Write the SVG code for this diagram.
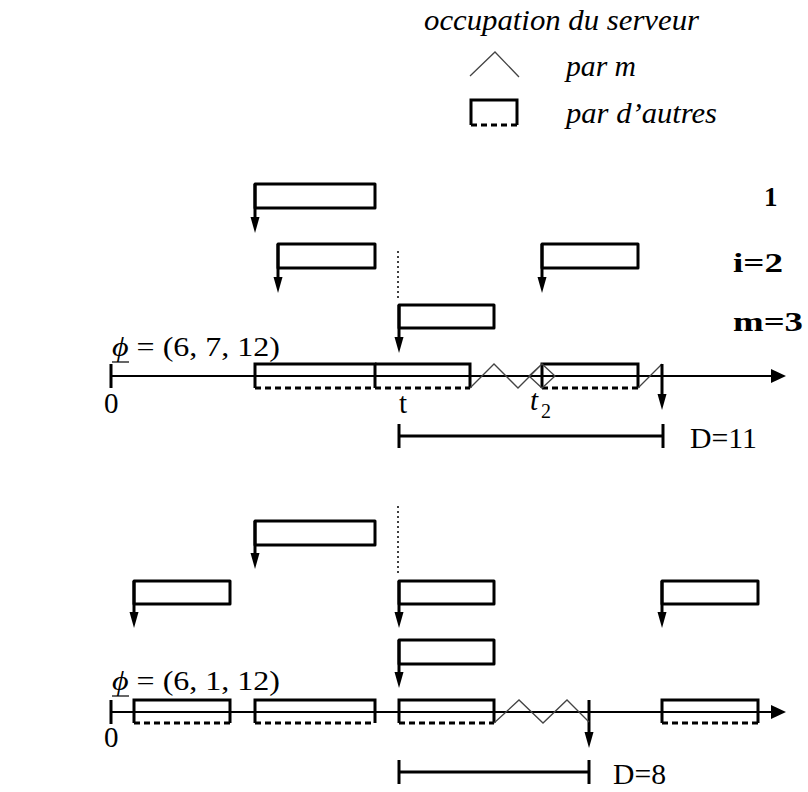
<svg xmlns="http://www.w3.org/2000/svg" width="808" height="792" viewBox="0 0 808 792">
<style>
.bx{fill:none;stroke:#000;stroke-width:3;stroke-linejoin:round;stroke-linecap:round}
.st{fill:none;stroke:#000;stroke-width:3;stroke-linecap:butt}
.ul{fill:none;stroke:#000;stroke-width:1.2}
.ds{fill:none;stroke:#000;stroke-width:3;stroke-dasharray:6,4}
.ax{fill:none;stroke:#000;stroke-width:2.2}
.zz{fill:none;stroke:#444;stroke-width:1.3}
.dot{fill:none;stroke:#000;stroke-width:1.5;stroke-dasharray:2,3}
.t{font-family:"Liberation Serif","DejaVu Serif",serif;font-size:27px;fill:#000}
.lg{font-size:29px}
.big{font-size:29px}
.sub{font-size:20px}
.i{font-style:italic}
.b{font-weight:bold}
</style>
<defs>
<path id="ah" d="M-4.5,-16 L4.5,-16 L0,0 Z" fill="#000"/>
<path id="axh" d="M-15,-7 L0,0 L-15,7 Z" fill="#000"/>
</defs>

<g id="legend">
<text class="t i lg" x="424" y="30" textLength="275" lengthAdjust="spacingAndGlyphs">occupation du serveur</text>
<polyline class="zz" points="470,76 495,52 519,77"/>
<text class="t i lg" x="566" y="76" textLength="70" lengthAdjust="spacingAndGlyphs">par m</text>
<path class="st" d="M471,125 L471,100 L517,100 L517,125"/>
<line class="ds" x1="471" y1="125" x2="517" y2="125"/>
<text class="t i lg" x="566" y="123" textLength="151" lengthAdjust="spacingAndGlyphs">par d’autres</text>
</g>

<g id="labels-right">
<text class="t b" x="764" y="206">1</text>
<text class="t b" x="733" y="272" textLength="50" lengthAdjust="spacingAndGlyphs">i=2</text>
<text class="t b" x="733" y="331" textLength="70" lengthAdjust="spacingAndGlyphs">m=3</text>
</g>

<!-- ===== Chart 1 ===== -->
<g id="chart1-axis">
<line class="ax" x1="111" y1="376" x2="772" y2="376"/>
<use href="#axh" x="786" y="376"/>
<line class="st" x1="111" y1="364" x2="111" y2="388"/>
<text class="t" x="112" y="356" textLength="168" lengthAdjust="spacingAndGlyphs"><tspan class="i">ϕ</tspan> = (6, 7, 12)</text>
<line class="ul" x1="112" y1="362" x2="129" y2="362"/>
<text class="t big" x="104" y="413">0</text>
<text class="t big" x="399" y="413">t</text>
<text class="t i big" x="530" y="410">t</text><text class="t sub" x="541" y="418">2</text>
</g>

<g id="chart1-busy">
<path class="st" d="M255,388 L255,364 L375,364 L375,388"/>
<line class="ds" x1="255" y1="388" x2="375" y2="388"/>
<path class="st" d="M375,364 L470,364 L470,388"/>
<line class="ds" x1="375" y1="388" x2="470" y2="388"/>
<path class="st" d="M542,388 L542,364 L638,364 L638,388"/>
<line class="ds" x1="542" y1="388" x2="638" y2="388"/>
<polyline class="zz" points="470,388 494,364 518,388 542,364 555,376 542,388 529,376 542,364"/>
<polyline class="zz" points="638,388 662,364"/>
</g>

<g id="c1-job1">
<rect class="bx" x="255" y="184" width="120" height="24"/>
<line class="st" x1="255" y1="184" x2="255" y2="220"/>
<use href="#ah" x="255" y="233"/>
</g>
<g id="c1-job2a">
<rect class="bx" x="278" y="244" width="97" height="24"/>
<line class="st" x1="278" y1="244" x2="278" y2="280"/>
<use href="#ah" x="278" y="293"/>
</g>
<g id="c1-job2b">
<rect class="bx" x="542" y="244" width="96" height="24"/>
<line class="st" x1="542" y1="244" x2="542" y2="280"/>
<use href="#ah" x="542" y="293"/>
</g>
<g id="c1-job3">
<rect class="bx" x="399" y="305" width="95" height="23"/>
<line class="st" x1="399" y1="305" x2="399" y2="340"/>
<use href="#ah" x="399" y="353"/>
</g>

<g id="connectors">
<line class="dot" x1="398" y1="251" x2="398" y2="300"/>
<line class="st" x1="662" y1="364" x2="662" y2="397"/>
<use href="#ah" x="662" y="410"/>
<line class="dot" x1="398" y1="506" x2="398" y2="574"/>
<line class="st" x1="589" y1="700" x2="589" y2="735"/>
<use href="#ah" x="589" y="748"/>
</g>

<g id="chart1-D">
<line class="st" x1="399" y1="436" x2="663" y2="436"/>
<line class="st" x1="399" y1="424" x2="399" y2="448"/>
<line class="st" x1="663" y1="424" x2="663" y2="448"/>
<text class="t big" x="690" y="448" textLength="67" lengthAdjust="spacingAndGlyphs">D=11</text>
</g>

<!-- ===== Chart 2 ===== -->
<g id="chart2-axis">
<line class="ax" x1="111" y1="712" x2="772" y2="712"/>
<use href="#axh" x="786" y="712"/>
<line class="st" x1="111" y1="700" x2="111" y2="724"/>
<text class="t" x="112" y="690" textLength="168" lengthAdjust="spacingAndGlyphs"><tspan class="i">ϕ</tspan> = (6, 1, 12)</text>
<line class="ul" x1="112" y1="696" x2="129" y2="696"/>
<text class="t big" x="104" y="747">0</text>
</g>

<g id="chart2-busy">
<path class="st" d="M134,723 L134,700 L230,700 L230,723"/>
<line class="ds" x1="134" y1="723" x2="230" y2="723"/>
<path class="st" d="M255,723 L255,700 L375,700 L375,723"/>
<line class="ds" x1="255" y1="723" x2="375" y2="723"/>
<path class="st" d="M399,723 L399,700 L494,700 L494,723"/>
<line class="ds" x1="399" y1="723" x2="494" y2="723"/>
<path class="st" d="M662,723 L662,700 L758,700 L758,723"/>
<line class="ds" x1="662" y1="723" x2="758" y2="723"/>
<polyline class="zz" points="494,723 519,700 543,723 567,700 589,722"/>
</g>

<g id="c2-job1">
<rect class="bx" x="255" y="521" width="120" height="24"/>
<line class="st" x1="255" y1="521" x2="255" y2="556"/>
<use href="#ah" x="255" y="569"/>
</g>
<g id="c2-job2a">
<rect class="bx" x="134" y="581" width="96" height="23"/>
<line class="st" x1="134" y1="581" x2="134" y2="615"/>
<use href="#ah" x="134" y="628"/>
</g>
<g id="c2-job2b">
<rect class="bx" x="399" y="581" width="95" height="23"/>
<line class="st" x1="399" y1="581" x2="399" y2="615"/>
<use href="#ah" x="399" y="628"/>
</g>
<g id="c2-job2c">
<rect class="bx" x="662" y="581" width="96" height="23"/>
<line class="st" x1="662" y1="581" x2="662" y2="615"/>
<use href="#ah" x="662" y="628"/>
</g>
<g id="c2-job3">
<rect class="bx" x="399" y="640" width="95" height="24"/>
<line class="st" x1="399" y1="640" x2="399" y2="675"/>
<use href="#ah" x="399" y="688"/>
</g>

<g id="chart2-D">
<line class="st" x1="399" y1="772" x2="589" y2="772"/>
<line class="st" x1="399" y1="760" x2="399" y2="784"/>
<line class="st" x1="589" y1="760" x2="589" y2="784"/>
<text class="t big" x="613" y="784" textLength="53" lengthAdjust="spacingAndGlyphs">D=8</text>
</g>
</svg>
